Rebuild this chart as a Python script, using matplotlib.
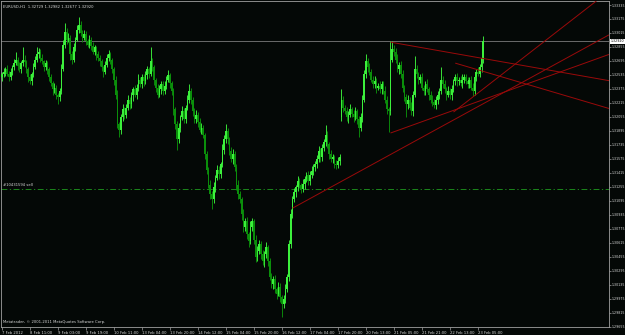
import matplotlib
matplotlib.use("Agg")
import matplotlib.pyplot as plt
import numpy as np

# ---------------- data (EURUSD H1, 7 Feb 2012 19:00 -> 23 Feb 2012) ----------------
title_text = "EURUSD,H1  1.32729 1.32982 1.32677 1.32920"
copyright_text = "Metatrader, \u00a9 2001-2011 MetaQuotes Software Corp."
order_text = "#10431594 sell"
order_price = 1.3123

first_open = 1.3251
gap_index = 194          # weekend gap (20 Feb open)
gap_open = 1.3205

close_prices = [
    1.3254, 1.3257, 1.3260, 1.3255, 1.3251, 1.3257, 1.3262, 1.3267, 1.3271, 1.3264,
    1.3260, 1.3267, 1.3271, 1.3268, 1.3260, 1.3251, 1.3246, 1.3254, 1.3262, 1.3271,
    1.3277, 1.3280, 1.3273, 1.3269, 1.3262, 1.3267, 1.3260, 1.3251, 1.3244, 1.3237,
    1.3239, 1.3231, 1.3228, 1.3235, 1.3260, 1.3288, 1.3303, 1.3294, 1.3296, 1.3277,
    1.3271, 1.3285, 1.3294, 1.3305, 1.3311, 1.3302, 1.3296, 1.3300, 1.3292, 1.3288,
    1.3294, 1.3287, 1.3280, 1.3285, 1.3277, 1.3273, 1.3269, 1.3262, 1.3257, 1.3265,
    1.3273, 1.3277, 1.3271, 1.3260, 1.3248, 1.3231, 1.3197, 1.3191, 1.3205, 1.3214,
    1.3208, 1.3216, 1.3225, 1.3220, 1.3230, 1.3237, 1.3231, 1.3239, 1.3248, 1.3243,
    1.3251, 1.3246, 1.3253, 1.3260, 1.3255, 1.3269, 1.3262, 1.3248, 1.3239, 1.3231,
    1.3237, 1.3243, 1.3235, 1.3241, 1.3248, 1.3253, 1.3244, 1.3235, 1.3214, 1.3197,
    1.3180, 1.3193, 1.3205, 1.3212, 1.3203, 1.3216, 1.3225, 1.3235, 1.3225, 1.3212,
    1.3203, 1.3208, 1.3200, 1.3191, 1.3193, 1.3185, 1.3163, 1.3145, 1.3128, 1.3117,
    1.3111, 1.3125, 1.3136, 1.3145, 1.3140, 1.3151, 1.3168, 1.3180, 1.3189, 1.3180,
    1.3166, 1.3157, 1.3163, 1.3148, 1.3128, 1.3117, 1.3111, 1.3094, 1.3079, 1.3086,
    1.3071, 1.3063, 1.3079, 1.3086, 1.3065, 1.3045, 1.3052, 1.3060, 1.3048, 1.3040,
    1.3048, 1.3056, 1.3040, 1.3022, 1.3014, 1.3020, 1.3008, 1.3003, 1.3011, 1.2999,
    1.2991, 1.2997, 1.3008, 1.3022, 1.3060, 1.3094, 1.3111, 1.3119, 1.3125, 1.3132,
    1.3127, 1.3123, 1.3129, 1.3134, 1.3139, 1.3132, 1.3139, 1.3143, 1.3148, 1.3151,
    1.3157, 1.3166, 1.3159, 1.3170, 1.3177, 1.3185, 1.3174, 1.3163, 1.3157, 1.3159,
    1.3152, 1.3150, 1.3155, 1.3159, 1.3225, 1.3216, 1.3212, 1.3205, 1.3208, 1.3214,
    1.3209, 1.3205, 1.3212, 1.3203, 1.3193, 1.3205, 1.3225, 1.3254, 1.3269, 1.3262,
    1.3257, 1.3248, 1.3243, 1.3246, 1.3239, 1.3241, 1.3237, 1.3243, 1.3235, 1.3225,
    1.3214, 1.3212, 1.3271, 1.3283, 1.3280, 1.3271, 1.3260, 1.3265, 1.3254, 1.3239,
    1.3228, 1.3220, 1.3225, 1.3216, 1.3212, 1.3231, 1.3260, 1.3254, 1.3248, 1.3251,
    1.3239, 1.3235, 1.3243, 1.3237, 1.3231, 1.3225, 1.3223, 1.3219, 1.3225, 1.3230,
    1.3235, 1.3248, 1.3243, 1.3237, 1.3231, 1.3235, 1.3230, 1.3237, 1.3246, 1.3251,
    1.3246, 1.3248, 1.3244, 1.3248, 1.3251, 1.3246, 1.3243, 1.3248, 1.3239, 1.3235,
    1.3251, 1.3257, 1.3255, 1.3262, 1.32729, 1.32920,
]

upper_wick_pips = [
    3, 4, 2, 5, 3, 4, 3, 5, 9, 3,
    4, 3, 14, 5, 3, 2, 4, 3, 5, 4,
    9, 4, 3, 5, 2, 4, 3, 2, 4, 3,
    5, 3, 2, 4, 6, 5, 10, 4, 6, 3,
    4, 5, 3, 6, 9, 4, 3, 5, 4, 3,
    5, 3, 4, 3, 2, 4, 3, 3, 2, 5,
    4, 5, 3, 2, 3, 4, 5, 3, 4, 6,
    3, 4, 5, 3, 4, 3, 5, 4, 6, 3,
    4, 3, 5, 4, 3, 16, 4, 3, 2, 4,
    5, 4, 3, 5, 4, 6, 3, 2, 4, 3,
    4, 5, 3, 6, 4, 3, 5, 8, 4, 3,
    4, 5, 3, 4, 6, 3, 2, 4, 3, 5,
    4, 6, 3, 5, 4, 3, 6, 5, 8, 4,
    3, 5, 6, 4, 3, 5, 4, 3, 6, 4,
    5, 3, 7, 4, 3, 5, 6, 4, 3, 5,
    4, 6, 3, 4, 5, 3, 4, 3, 5, 4,
    3, 5, 6, 4, 5, 6, 4, 5, 3, 6,
    4, 3, 5, 4, 3, 5, 4, 6, 3, 4,
    5, 6, 4, 5, 3, 11, 4, 3, 5, 4,
    3, 4, 5, 4, 12, 4, 3, 5, 4, 6,
    3, 4, 5, 3, 4, 5, 6, 5, 8, 4,
    5, 3, 4, 6, 4, 3, 5, 4, 3, 6,
    4, 3, 21, 9, 5, 4, 6, 3, 4, 5,
    3, 4, 5, 3, 6, 4, 15, 5, 3, 4,
    5, 3, 4, 6, 3, 4, 5, 3, 4, 5,
    3, 14, 4, 5, 3, 6, 4, 5, 3, 4,
    5, 3, 4, 6, 3, 4, 5, 3, 4, 5,
    4, 3, 5, 4, 4, 6.2,
]

lower_wick_pips = [
    4, 3, 5, 3, 4, 3, 4, 3, 2, 5,
    3, 4, 3, 5, 4, 6, 3, 4, 3, 2,
    3, 4, 5, 3, 4, 3, 5, 4, 3, 6,
    4, 5, 8, 4, 3, 2, 4, 5, 3, 6,
    5, 3, 4, 2, 3, 4, 5, 3, 4, 3,
    4, 5, 3, 4, 6, 3, 5, 4, 6, 3,
    3, 4, 5, 4, 6, 5, 4, 8, 5, 4,
    5, 4, 3, 5, 4, 6, 3, 5, 4, 3,
    4, 5, 3, 4, 5, 3, 4, 6, 5, 4,
    3, 5, 4, 3, 4, 3, 5, 4, 6, 5,
    12, 4, 5, 3, 4, 5, 3, 4, 5, 6,
    5, 4, 6, 3, 5, 4, 6, 5, 4, 6,
    11, 4, 5, 3, 6, 4, 3, 5, 4, 5,
    4, 3, 5, 4, 6, 5, 4, 6, 5, 4,
    5, 6, 3, 4, 5, 6, 4, 3, 5, 4,
    6, 4, 5, 3, 4, 5, 4, 6, 3, 5,
    15, 4, 5, 3, 4, 5, 4, 3, 5, 4,
    3, 5, 4, 6, 3, 4, 5, 3, 4, 5,
    4, 3, 5, 4, 3, 5, 4, 6, 3, 4,
    5, 4, 3, 5, 4, 5, 3, 4, 6, 3,
    4, 5, 3, 6, 10, 4, 5, 3, 4, 5,
    4, 3, 5, 4, 6, 3, 4, 5, 3, 4,
    5, 24, 4, 3, 5, 4, 3, 6, 4, 5,
    4, 15, 5, 3, 4, 5, 3, 4, 5, 4,
    3, 5, 4, 3, 6, 4, 5, 3, 4, 5,
    4, 3, 5, 4, 6, 3, 4, 5, 3, 4,
    5, 4, 3, 5, 4, 3, 5, 4, 3, 6,
    4, 5, 3, 4, 5, 5.3,
]

time_labels = ["7 Feb 2012", "8 Feb 11:00", "9 Feb 03:00", "9 Feb 19:00",
               "10 Feb 11:00", "13 Feb 04:00", "13 Feb 20:00", "14 Feb 12:00",
               "15 Feb 04:00", "15 Feb 20:00", "16 Feb 12:00", "17 Feb 04:00",
               "17 Feb 20:00", "20 Feb 13:00", "21 Feb 05:00", "21 Feb 21:00",
               "22 Feb 13:00", "23 Feb 05:00"]
bars_per_time_label = 16

price_ticks = [1.33335, 1.33175, 1.33015, 1.32855, 1.32695, 1.32535, 1.32375,
               1.32215, 1.32055, 1.31895, 1.31735, 1.31575, 1.31415, 1.31255,
               1.31095, 1.30935, 1.30775, 1.30615, 1.30455, 1.30295, 1.30135,
               1.29975, 1.29815, 1.29655]

# trend lines: (bar, price) start anchor, (bar, price) second anchor; drawn as rays to the right
trend_lines = [
    ((166, 1.3101), (290, 1.3237)),
    ((222, 1.3291), (290, 1.3267)),
    ((222, 1.3187), (290, 1.3236)),
    ((258, 1.3211), (319, 1.3306)),
    ((259, 1.3267), (347, 1.3215)),
]

# ---------------- style ----------------
BG = "#040806"
TXT = "#d8d8d8"
AXC = "#a0a0a0"
BULL = "#3cf03c"
BEAR = "#0b8f0b"
RED = "#9a0a0a"
FS = 2.7
FSY = 2.35

W, H = 625, 335
fig = plt.figure(figsize=(W / 100, H / 100), dpi=100, facecolor=BG)
ax = fig.add_axes([1 / W, (H - 327) / H, 608 / W, 326 / H], facecolor=BG)

close = np.array(close_prices, dtype=float)
n = len(close)
idx = np.arange(n)
opens = np.r_[first_open, close[:-1]]
opens[gap_index] = gap_open
high = np.maximum(opens, close) + np.array(upper_wick_pips) * 1e-4
low = np.minimum(opens, close) - np.array(lower_wick_pips) * 1e-4
bull = close >= opens
colors = np.where(bull, BULL, BEAR)

ax.vlines(idx, low, high, colors=colors, linewidth=0.65, zorder=3)
body_h = np.maximum(np.abs(close - opens), 0.00004)
ax.bar(idx, body_h, bottom=np.minimum(opens, close), width=0.9,
       color=colors, linewidth=0, zorder=4)

xmin, xmax = -0.571, 346.857
ax.set_xlim(xmin, xmax)
ax.set_ylim(1.29650, 1.33381)

# trend lines (rays)
for (x0, y0), (x1, y1) in trend_lines:
    slope = (y1 - y0) / (x1 - x0)
    ax.plot([x0, xmax], [y0, y0 + slope * (xmax - x0)], color=RED,
            linewidth=0.7, zorder=5, solid_capstyle="butt")

# bid line and order line
bid = close[-1]
ax.axhline(bid, color="#7a7a7a", linewidth=0.6, zorder=2)
ax.axhline(order_price, color="#1f9a1f", linewidth=0.6,
           linestyle=(0, (7, 3, 1.5, 3)), zorder=2)
ax.annotate(order_text, xy=(0, order_price), xycoords=("axes fraction", "data"),
            xytext=(1.5, 1.2), textcoords="offset points", fontsize=FS,
            color=TXT, va="bottom", ha="left")

# spines
for s in ax.spines.values():
    s.set_color(AXC)
    s.set_linewidth(0.6)

# right price axis
ax.yaxis.tick_right()
ax.set_yticks(price_ticks)
ax.set_yticklabels([f"{p:.5f}" for p in price_ticks])
ax.tick_params(axis="y", which="both", direction="out", length=1.2, width=0.5,
               colors=AXC, labelcolor=TXT, labelsize=FSY, pad=0.6)

# time axis
tpos = [k * bars_per_time_label for k in range(len(time_labels))]
ax.set_xticks(tpos)
ax.set_xticklabels(time_labels)
for lab in ax.get_xticklabels():
    lab.set_horizontalalignment("left")
ax.tick_params(axis="x", which="both", direction="out", length=2.0, width=0.5,
               colors=AXC, labelcolor=TXT, labelsize=FS, pad=0.8)

# bid price highlight label
ax.annotate(f"{bid:.5f}", xy=(1, bid), xycoords=("axes fraction", "data"),
            xytext=(1.0, 0), textcoords="offset points", fontsize=FSY,
            color="#000000", va="center", ha="left",
            bbox=dict(boxstyle="square,pad=0.2", fc="#ffffff", ec="none"),
            annotation_clip=False, zorder=10)

# texts
ax.text(0.004, 0.988, title_text, transform=ax.transAxes, fontsize=FS,
        color=TXT, va="top", ha="left")
ax.text(0.004, 0.008, copyright_text, transform=ax.transAxes, fontsize=FS,
        color=TXT, va="bottom", ha="left")

fig.savefig("out.png", dpi=100, facecolor=BG)
